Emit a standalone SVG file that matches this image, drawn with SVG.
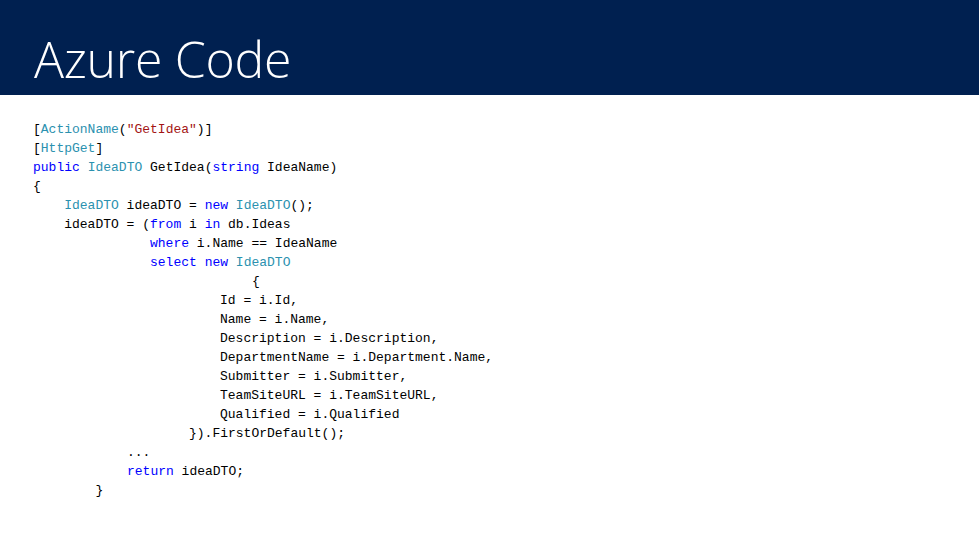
<svg xmlns="http://www.w3.org/2000/svg" width="979" height="551" viewBox="0 0 979 551">
<style>
.c{font-family:"Liberation Mono",monospace;font-size:13px;fill:#000}
.t{fill:#2B91AF}.k{fill:#0000FF}.s{fill:#A31515}
</style>
<rect width="979" height="551" fill="#fff"/>
<g id="title"><rect width="979" height="95" fill="#002050"/>
<text x="34" y="78" font-family="'Open Sans',sans-serif" font-weight="300" font-size="50" fill="#fff" letter-spacing="-0.3">Azure Code</text></g>
<g id="code" class="c">
<text x="33" y="133">[<tspan class="t">ActionName</tspan>(<tspan class="s">"GetIdea"</tspan>)]</text>
<text x="33" y="152">[<tspan class="t">HttpGet</tspan>]</text>
<text x="33" y="171"><tspan class="k">public</tspan> <tspan class="t">IdeaDTO</tspan> GetIdea(<tspan class="k">string</tspan> IdeaName)</text>
<text x="33" y="190">{</text>
<text x="64.2" y="209"><tspan class="t">IdeaDTO</tspan> ideaDTO = <tspan class="k">new</tspan> <tspan class="t">IdeaDTO</tspan>();</text>
<text x="64.2" y="228">ideaDTO = (<tspan class="k">from</tspan> i <tspan class="k">in</tspan> db.Ideas</text>
<text x="150" y="247"><tspan class="k">where</tspan> i.Name == IdeaName</text>
<text x="150" y="266"><tspan class="k">select</tspan> <tspan class="k">new</tspan> <tspan class="t">IdeaDTO</tspan></text>
<text x="252" y="285">{</text>
<text x="220" y="304">Id = i.Id,</text>
<text x="220" y="323">Name = i.Name,</text>
<text x="220" y="342">Description = i.Description,</text>
<text x="220" y="361">DepartmentName = i.Department.Name,</text>
<text x="220" y="380">Submitter = i.Submitter,</text>
<text x="220" y="399">TeamSiteURL = i.TeamSiteURL,</text>
<text x="220" y="418">Qualified = i.Qualified</text>
<text x="189" y="437">}).FirstOrDefault();</text>
<text x="127" y="456">...</text>
<text x="127" y="475"><tspan class="k">return</tspan> ideaDTO;</text>
<text x="95.4" y="494">}</text>
</g>
</svg>
